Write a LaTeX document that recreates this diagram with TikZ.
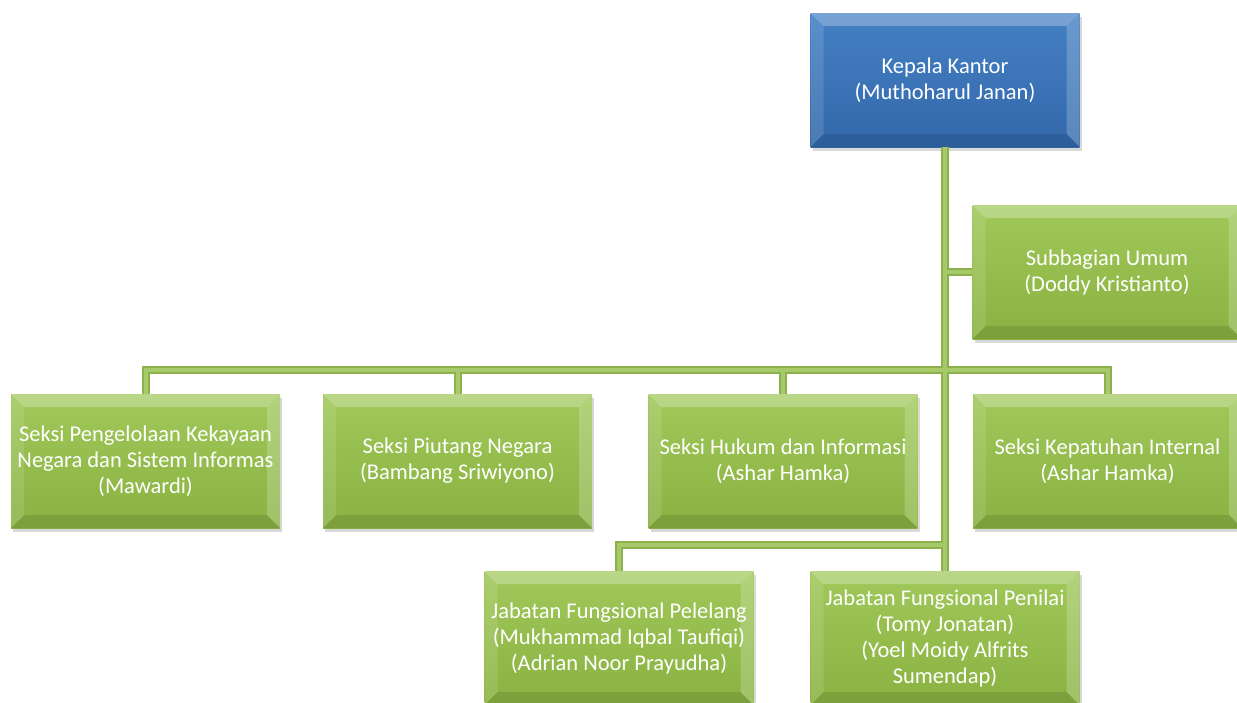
\documentclass[tikz,border=0pt]{standalone}
\usepackage{fontspec}
\setmainfont{Carlito}
\usetikzlibrary{shadows}
\definecolor{kepalaTop}{HTML}{4580C4}
\definecolor{kepalaBot}{HTML}{3268AA}
\definecolor{seksiTop}{HTML}{A0C85A}
\definecolor{seksiBot}{HTML}{8AB242}
\definecolor{linkDark}{HTML}{8DB04A}
\definecolor{linkLight}{HTML}{A6C96A}
\newcommand{\bevel}{%
\fill[white,opacity=0.28] (path picture bounding box.north west)--(path picture bounding box.north east)--([shift={(-13pt,-13pt)}]path picture bounding box.north east)--([shift={(13pt,-13pt)}]path picture bounding box.north west)--cycle;
\fill[white,opacity=0.12] (path picture bounding box.north west)--([shift={(13pt,-13pt)}]path picture bounding box.north west)--([shift={(13pt,13pt)}]path picture bounding box.south west)--(path picture bounding box.south west)--cycle;
\fill[white,opacity=0.2] (path picture bounding box.north east)--(path picture bounding box.south east)--([shift={(-13pt,13pt)}]path picture bounding box.south east)--([shift={(-13pt,-13pt)}]path picture bounding box.north east)--cycle;
\fill[black,opacity=0.1] (path picture bounding box.south west)--(path picture bounding box.south east)--([shift={(-13pt,13pt)}]path picture bounding box.south east)--([shift={(13pt,13pt)}]path picture bounding box.south west)--cycle;}
\tikzset{
  unit/.style={minimum width=269pt,minimum height=134pt,inner sep=0pt,
    align=center,text=white,font=\fontsize{22.5}{26}\selectfont,
    drop shadow={shadow xshift=2pt,shadow yshift=-4pt,opacity=0.3},
    path picture={\bevel}},
  head/.style={unit,top color=kepalaTop,bottom color=kepalaBot},
  seksi/.style={unit,top color=seksiTop,bottom color=seksiBot},
  link/.style={line width=4pt,draw=linkLight,preaction={draw=linkDark,line width=8pt}}
}

\begin{document}
\begin{tikzpicture}[x=1pt,y=-1pt]
%\draw[help lines,step=50](0,0)grid(1237,702);
\useasboundingbox (0,0) rectangle (1237,702);
\node[head] (kepala) at (945,80) {Kepala Kantor\\(Muthoharul Janan)};
\node[seksi] (subbag) at (1107,272) {Subbagian Umum\\(Doddy Kristianto)};
\node[seksi] (pknsi) at (145.5,461) {Seksi Pengelolaan Kekayaan\\Negara dan Sistem Informas\\(Mawardi)};
\node[seksi] (piutang) at (457.5,461) {Seksi Piutang Negara\\(Bambang Sriwiyono)};
\node[seksi] (hukum) at (783,461) {Seksi Hukum dan Informasi\\(Ashar Hamka)};
\node[seksi] (patuh) at (1107.5,461) {Seksi Kepatuhan Internal\\(Ashar Hamka)};
\node[seksi] (lelang) at (619,638) {Jabatan Fungsional Pelelang\\(Mukhammad Iqbal Taufiqi)\\(Adrian Noor Prayudha)};
\node[seksi] (penilai) at (945,638) {Jabatan Fungsional Penilai\\(Tomy Jonatan)\\(Yoel Moidy Alfrits\\Sumendap)};
\coordinate (bus) at (945,370);
\coordinate (lowbus) at (945,545);
% connectors
\draw[link] (kepala.south)--(penilai.north)
  (kepala.south |- subbag.west)--(subbag.west)
  (pknsi.north) |- (bus) -| (patuh.north)
  (piutang.north)--(piutang.north |- bus)
  (hukum.north)--(hukum.north |- bus)
  (lelang.north) |- (lowbus);
\end{tikzpicture}
\end{document}
